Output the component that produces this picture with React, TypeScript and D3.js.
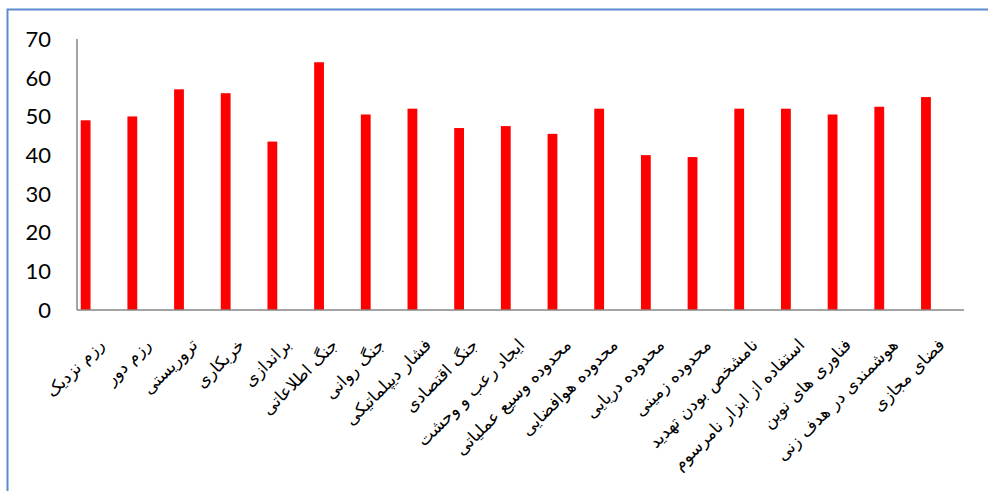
import React, { useEffect, useRef } from "react";
import * as d3 from "d3";

const categories = [
  "رزم نزدیک",
  "رزم دور",
  "تروریستی",
  "خربکاری",
  "براندازی",
  "جنگ اطلاعاتی",
  "جنگ روانی",
  "فشار دیپلماتیکی",
  "جنگ اقتصادی",
  "ایجاد رعب و وحشت",
  "محدوده وسیع عملیاتی",
  "محدوده هوافضایی",
  "محدوده دریایی",
  "محدوده زمینی",
  "نامشخص بودن تهدید",
  "استفاده از ابزار نامرسوم",
  "فناوری های نوین",
  "هوشمندی در هدف زنی",
  "فضای مجازی",
];

const values = [49, 50, 57, 56, 43.5, 64, 50.5, 52, 47, 47.5, 45.5, 52, 40, 39.5, 52, 52, 50.5, 52.5, 55];

const yTicks = [0, 10, 20, 30, 40, 50, 60, 70];

const W = 988;
const H = 491;

const App: React.FC = () => {
  const svgRef = useRef<SVGSVGElement | null>(null);

  useEffect(() => {
    if (!svgRef.current) return;
    const svg = d3.select(svgRef.current);
    svg.selectAll("*").remove();

    const plot = { left: 77, right: 964, top: 39, bottom: 310 };

    // outer frame of the chart area (only top and left are in view)
    svg.append("path")
      .attr("d", `M7.5,${H} V9.5 H${W}`)
      .attr("fill", "none")
      .attr("stroke", "#5b8ccf")
      .attr("stroke-width", 2);

    const x = d3.scaleBand<string>()
      .domain(categories)
      .range([plot.left, plot.right])
      .paddingInner(0)
      .paddingOuter(0);

    const y = d3.scaleLinear()
      .domain([0, 70])
      .range([plot.bottom, plot.top]);

    // y tick labels
    svg.append("g")
      .selectAll("text")
      .data(yTicks)
      .join("text")
      .attr("x", 51)
      .attr("y", d => y(d))
      .attr("dy", "0.36em")
      .attr("text-anchor", "end")
      .style("font-family", "Lato, 'Open Sans', sans-serif")
      .style("font-size", "22px")
      .style("fill", "#000")
      .text(d => d);

    // bars
    const bw = x.bandwidth();
    svg.append("g")
      .selectAll("rect")
      .data(categories)
      .join("rect")
      .attr("x", d => x(d)! + bw * 0.08)
      .attr("y", (d, i) => y(values[i]))
      .attr("width", bw * 0.21)
      .attr("height", (d, i) => plot.bottom - y(values[i]))
      .attr("fill", "#ff0000");

    // axes lines
    svg.append("line")
      .attr("x1", plot.left).attr("x2", plot.left)
      .attr("y1", plot.top).attr("y2", plot.bottom)
      .attr("stroke", "#868686")
      .attr("stroke-width", 1.5);

    svg.append("line")
      .attr("x1", plot.left).attr("x2", plot.right)
      .attr("y1", plot.bottom).attr("y2", plot.bottom)
      .attr("stroke", "#868686")
      .attr("stroke-width", 1.5);

    // rotated category labels
    svg.append("g")
      .selectAll("text")
      .data(categories)
      .join("text")
      .attr("transform", d => `translate(${x(d)! + bw / 2 + 5},346) rotate(-45)`)
      .attr("text-anchor", "end")
      .style("font-family", "'DejaVu Sans', sans-serif")
      .style("font-size", "17px")
      .style("fill", "#000")
      .text(d => d);
  }, []);

  return (
    <div style={{ position: "fixed", left: 0, top: 0, width: W, height: H, background: "#fff" }}>
      <svg ref={svgRef} width={W} height={H} viewBox={`0 0 ${W} ${H}`} />
    </div>
  );
};

export default App;
